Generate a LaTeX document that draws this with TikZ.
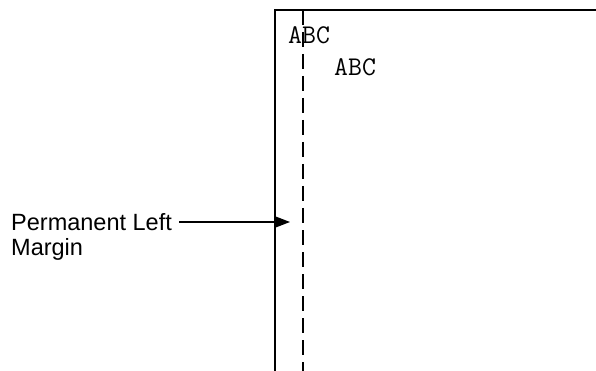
\documentclass[tikz,border=0pt]{standalone}
\usepackage{fontspec}
\setmainfont{Liberation Sans}
\usetikzlibrary{positioning,arrows.meta}

\begin{document}
\begin{tikzpicture}[
      x=1pt, y=-1pt,
      edge/.style={line width=1.6pt},
      marginline/.style={line width=1.5pt, dash pattern=on 15pt off 7pt},
      sample/.style={anchor=base west, inner sep=0pt, font=\ttfamily\fontsize{27}{30}\selectfont},
      lbl/.style={anchor=base west, inner sep=0pt, align=left,
                  font=\fontsize{23.5}{25}\selectfont},
    ]
    \useasboundingbox (0,0) rectangle (596,371);
    % page edge (left and top) and the dashed margin line
    \draw[edge] (275,371) -- (275,10) -- (596,10);
    \draw[marginline] (303,10) -- (303,371);
    % sample text
    \node[sample] (abc1) at (288,44) {ABC};
    \node[sample] (abc2) at (334,76) {ABC};
    % label and its arrow
    \node[lbl] (perm) at (11,255) {Permanent Left\\Margin};
    \coordinate (tip) at (290,222);
    \draw[-{Triangle[length=16pt, width=12pt]}, line width=1.5pt, shorten <=7pt]
      (perm.north east |- tip) -- (tip);
  \end{tikzpicture}
\end{document}
